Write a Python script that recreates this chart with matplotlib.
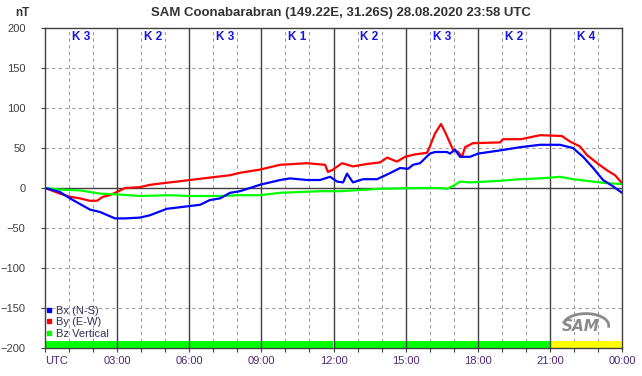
import matplotlib
matplotlib.use('Agg')
import matplotlib.pyplot as plt
from matplotlib.patches import Arc
from matplotlib.lines import Line2D

plt.rcParams['font.family'] = ['Liberation Sans', 'DejaVu Sans']

# data (hours UTC, nT)
bx_t = [0, 0.62, 1.04, 1.87, 2.29, 2.91, 3.33, 3.95, 4.37, 5.07, 5.62, 6.45, 6.86, 7.28, 7.70,
        8.11, 8.94, 9.78, 10.19, 10.90, 11.44, 11.86, 12.15, 12.40, 12.56, 12.81, 13.23, 13.81,
        14.31, 14.77, 15.10, 15.31, 15.60, 16.01, 16.22, 16.72, 16.85, 17.05, 17.26, 17.68,
        18.01, 18.93, 19.76, 20.59, 21.42, 21.96, 22.38, 22.80, 23.21, 23.63, 24.0]
bx = [0, -5, -13, -27, -30, -38, -38, -37, -34, -26, -24, -21, -15, -13, -6,
      -4, 4, 10, 12, 10, 10, 14, 8, 7, 18, 7, 11, 11,
      18, 25, 24, 29, 31, 43, 45, 45, 43, 48, 39, 39,
      43, 47, 51, 54, 54, 50, 39, 25, 10, 2, -6]

by_t = [0, 0.62, 1.04, 1.46, 1.87, 2.16, 2.41, 2.70, 2.99, 3.33, 3.95, 4.37, 4.91, 5.49, 6.03,
        6.86, 7.70, 8.11, 8.94, 9.78, 10.90, 11.65, 11.77, 11.98, 12.35, 12.81, 13.39, 13.94,
        14.23, 14.64, 14.98, 15.39, 15.89, 16.01, 16.22, 16.47, 16.64, 16.85, 16.97, 17.18,
        17.35, 17.47, 17.80, 18.93, 19.05, 19.80, 20.59, 21.50, 21.84, 22.25, 22.55, 22.97,
        23.38, 23.71, 24.0]
by = [0, -7, -11, -13, -16, -16, -11, -9, -5, 0, 1, 4, 6, 8, 10,
      13, 16, 19, 23, 29, 31, 29, 20, 23, 31, 27, 30, 32,
      38, 33, 39, 42, 44, 52, 68, 80, 70, 56, 48, 45,
      39, 51, 56, 57, 61, 61, 66, 65, 58, 52, 41, 31,
      22, 16, 6]

bz_t = [0, 0.62, 1.46, 2.29, 2.99, 3.95, 5.20, 6.03, 7.28, 8.11, 8.94, 9.78, 11.44, 12.27,
        13.94, 15.60, 16.43, 16.72, 16.97, 17.26, 17.68, 18.93, 19.76, 20.59, 21.42, 21.96,
        22.80, 23.38, 24.0]
bz = [0, -2, -3, -7, -8, -10, -9, -10, -10, -9, -9, -6, -4, -4,
      -1, 0, 0, -1, 2.5, 8, 7, 9, 11, 12, 14, 11,
      8, 6, 5]

k_index = [3, 2, 3, 1, 2, 3, 2, 4]
time_labels = ['UTC', '03:00', '06:00', '09:00', '12:00', '15:00', '18:00', '21:00', '00:00']

fig = plt.figure(figsize=(6.42, 3.76), dpi=100)
ax = fig.add_axes([45/642, 28/376, 577/642, 320/376])

ax.set_xlim(0, 24)
ax.set_ylim(-200, 200)

# grid
for h in range(1, 24):
    if h % 3:
        ax.axvline(h, color='#a0a0a0', lw=0.8, ls=(0, (3, 3)), zorder=1)
    else:
        ax.axvline(h, color='#404040', lw=1.0, zorder=3)
for v in [-150, -100, -50, 50, 100, 150]:
    ax.axhline(v, color='#a0a0a0', lw=0.8, ls=(0, (3, 3)), zorder=1)
ax.axhline(0, color='#404040', lw=1.0, zorder=3)

# K index bar along the bottom
k_pos = [3 * i + 1.5 for i in range(len(k_index))]
k_cols = ['#ffff00' if k >= 4 else '#00ff00' for k in k_index]
ax.bar(k_pos, 8.75, bottom=-200, width=3, color=k_cols, zorder=2)
for x, k in zip(k_pos, k_index):
    ax.text(x, 189, 'K %d' % k, ha='center', va='center', color='#1414e6',
            fontsize=8.5, fontweight='bold', zorder=5)

# traces
ax.plot(by_t, by, color='#ff0000', lw=1.6, zorder=4)
ax.plot(bz_t, bz, color='#00ff00', lw=1.6, zorder=4)
ax.plot(bx_t, bx, color='#0000ff', lw=1.6, zorder=4)

# axes styling
for s in ax.spines.values():
    s.set_color('#404040')
    s.set_linewidth(1.0)
    s.set_zorder(6)

ax.set_yticks(range(-200, 201, 50))
ax.tick_params(axis='y', length=3, pad=11, labelsize=8, labelcolor='#404040', color='#404040')
ax.set_xticks(range(0, 25))
ax.set_xticklabels([time_labels[h // 3] if h % 3 == 0 else '' for h in range(25)])
ax.tick_params(axis='x', length=3, pad=3, labelsize=8, labelcolor='#4a2a78', color='#404040')
ax.get_xticklabels()[0].set_ha('left')

# legend
handles = [Line2D([], [], color=c, marker='s', ms=2.5, ls='none') for c in ['#0000ff', '#ff0000', '#00ff00']]
ax.legend(handles, ['Bx (N-S)', 'By (E-W)', 'Bz Vertical'], loc='lower left',
          bbox_to_anchor=(0.0, 0.025), frameon=False, handlelength=0.6, handletextpad=0.3,
          labelspacing=0.15, borderaxespad=0, borderpad=0.1, fontsize=8, labelcolor='#333355')

# SAM logo
ax.text(22.3, -173, 'SAM', style='italic', fontweight='bold', color='#8a8a8a', fontsize=11,
        ha='center', va='center', family='DejaVu Sans', zorder=5)
ax.add_patch(Arc((22.5, -172), 1.9, 30, theta1=-70, theta2=110, color='#8a8a8a', lw=2.0, zorder=5))

fig.text(341/642, 1 - 13/376, 'SAM Coonabarabran (149.22E, 31.26S) 28.08.2020 23:58 UTC',
         ha='center', va='center', fontsize=9.5, fontweight='bold', color='#333333')
fig.text(22/642, 1 - 13/376, 'nT', ha='center', va='center', fontsize=8.5,
         fontweight='bold', color='#333333')

fig.savefig('out.png', dpi=100)
